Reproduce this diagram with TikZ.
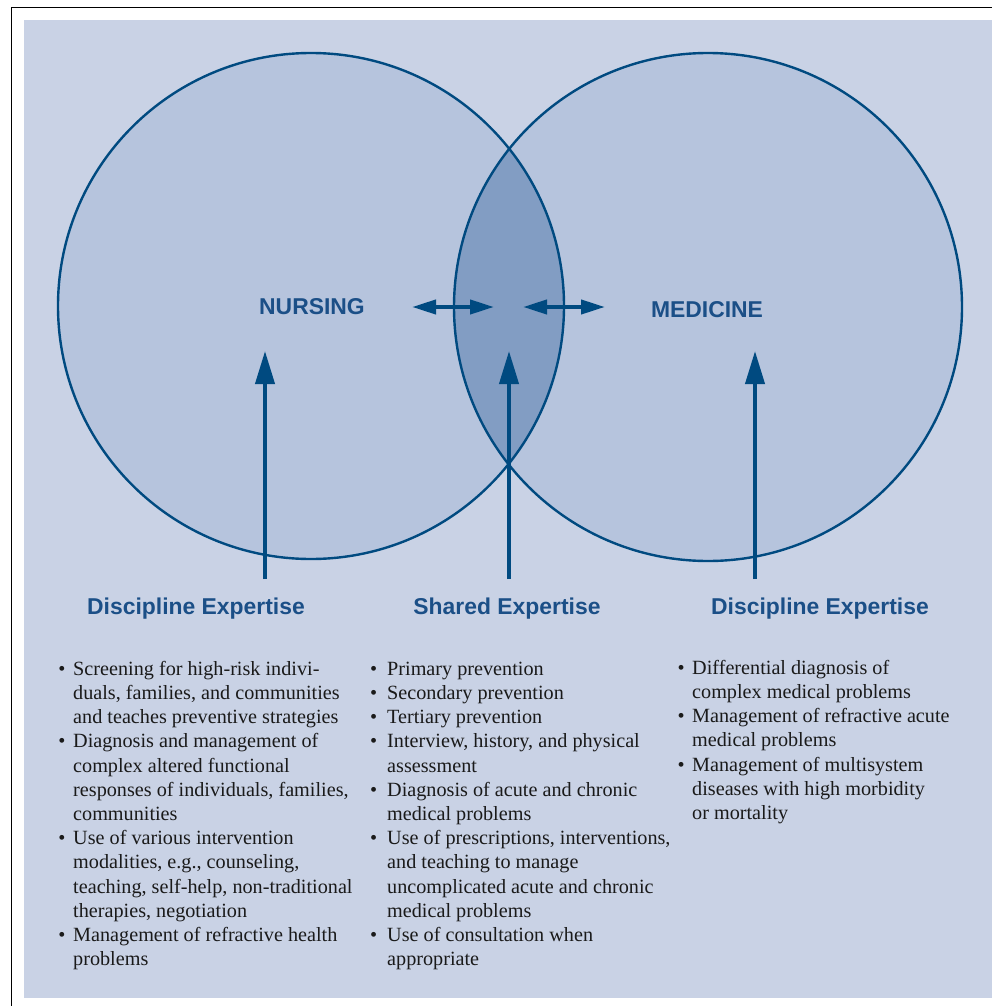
\documentclass[tikz,border=0pt]{standalone}
\usepackage{fontspec}
\setmainfont{Liberation Serif}
\newfontfamily\headfont{Liberation Sans}
\usetikzlibrary{arrows.meta}
\definecolor{bgblue}{HTML}{C9D2E5}
\definecolor{circfill}{HTML}{B6C4DD}
\definecolor{lensfill}{HTML}{829DC3}
\definecolor{darkblue}{HTML}{004A80}
\definecolor{headblue}{HTML}{1B4F87}
\definecolor{bodytext}{HTML}{1A1A1A}
\newcommand{\bl}[1]{\llap{\textbullet\hspace{#1}}}
\tikzset{
  circ/.style={draw=darkblue, line width=2.4pt},
  heading/.style={font=\headfont\bfseries\fontsize{22.9}{27}\selectfont, text=headblue, inner sep=0pt, anchor=base},
  listtext/.style={font=\fontsize{20.2}{24.2}\selectfont, text=bodytext, align=left, inner sep=0pt, anchor=north west},
  uparrow/.style={darkblue, line width=4pt, -{Triangle[length=33pt,width=19pt]}},
  lrarrow/.style={darkblue, line width=4pt, {Triangle[length=24pt,width=14pt]}-{Triangle[length=24pt,width=14pt]}}
}
\begin{document}
\begin{tikzpicture}[x=1pt,y=-1pt]
\useasboundingbox (0,0) rectangle (992,1006);
\fill[white] (0,0) rectangle (992,1006);
\draw[black, line width=1.6pt] (11.5,1006) -- (11.5,7.5) -- (992,7.5);
\fill[bgblue] (24,20) rectangle (992,998);
% circles
\fill[circfill] (311,306) circle[radius=253pt];
\fill[circfill] (708,307) circle[radius=254pt];
\begin{scope}
\clip (311,306) circle[radius=253pt];
\fill[lensfill] (708,307) circle[radius=254pt];
\end{scope}
\draw[circ] (311,306) circle[radius=253pt];
\draw[circ] (708,307) circle[radius=254pt];
% labels
\node[heading] (nursing) at (312,314) {NURSING};
\node[heading] (medicine) at (707,317) {MEDICINE};
\node[heading] (dl) at (196,614) {Discipline Expertise};
\node[heading] (sh) at (507,614) {Shared Expertise};
\node[heading] (dr) at (820,614) {Discipline Expertise};
% arrow coordinates
\coordinate (a1s) at (265,579); \coordinate (a1e) at (265,351);
\coordinate (a2s) at (509,579); \coordinate (a2e) at (509,351);
\coordinate (a3s) at (755,579); \coordinate (a3e) at (755,351);
\coordinate (h1a) at (412,307); \coordinate (h1b) at (494,307);
\coordinate (h2a) at (523,307); \coordinate (h2b) at (605,307);
\draw[uparrow] (a1s) -- (a1e);
\draw[uparrow] (a2s) -- (a2e);
\draw[uparrow] (a3s) -- (a3e);
\draw[lrarrow] (h1a) -- (h1b);
\draw[lrarrow] (h2a) -- (h2b);
% lists
\node[listtext] (listl) at (73,659) {\rule{0pt}{16pt}\bl{7.8pt}Screening for high-risk indivi-\\
duals, families, and communities\\
and teaches preventive strategies\\
\bl{7.8pt}Diagnosis and management of\\
complex altered functional\\
responses of individuals, families,\\
communities\\
\bl{7.8pt}Use of various intervention\\
modalities, e.g., counseling,\\
teaching, self-help, non-traditional\\
therapies, negotiation\\
\bl{7.8pt}Management of refractive health\\
problems};
\node[listtext] (listm) at (387,659) {\rule{0pt}{16pt}\bl{10pt}Primary prevention\\
\bl{10pt}Secondary prevention\\
\bl{10pt}Tertiary prevention\\
\bl{10pt}Interview, history, and physical\\
assessment\\
\bl{10pt}Diagnosis of acute and chronic\\
medical problems\\
\bl{10pt}Use of prescriptions, interventions,\\
and teaching to manage\\
uncomplicated acute and chronic\\
medical problems\\
\bl{10pt}Use of consultation when\\
appropriate};
\node[listtext] (listr) at (692,658) {\rule{0pt}{16pt}\bl{7.5pt}Differential diagnosis of\\
complex medical problems\\
\bl{7.5pt}Management of refractive acute\\
medical problems\\
\bl{7.5pt}Management of multisystem\\
diseases with high morbidity\\
or mortality};
\end{tikzpicture}
\end{document}
